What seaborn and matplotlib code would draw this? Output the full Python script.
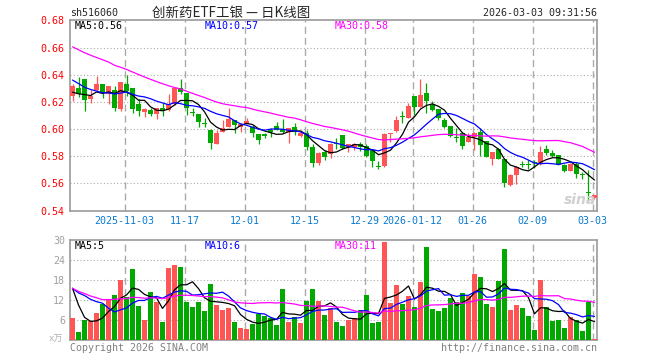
import numpy as np
import pandas as pd
import matplotlib
matplotlib.use('Agg')
import matplotlib.pyplot as plt
import seaborn as sns

# Daily bars for sh516060, 2025-10-21 .. 2026-03-03
opens = [0.6245, 0.6300, 0.6367, 0.6222, 0.6287, 0.6330, 0.6255, 0.6290, 0.6145, 0.6330,
         0.6300, 0.6185, 0.6126, 0.6138, 0.6110, 0.6155, 0.6143, 0.6185, 0.6300, 0.6267,
         0.6123, 0.6110, 0.6045, 0.5990, 0.5894, 0.5982, 0.6019, 0.6069, 0.6019, 0.6039,
         0.6019, 0.5964, 0.5964, 0.5994, 0.6024, 0.5999, 0.5982, 0.6014, 0.5949, 0.5974,
         0.5865, 0.5752, 0.5832, 0.5815, 0.5897, 0.5956, 0.5861, 0.5869, 0.5894, 0.5876,
         0.5844, 0.5727, 0.5727, 0.5966, 0.5986, 0.6093, 0.6080, 0.6242, 0.6160, 0.6262,
         0.6180, 0.6150, 0.6068, 0.6025, 0.5938, 0.5969, 0.5907, 0.5944, 0.5982, 0.5912,
         0.5782, 0.5852, 0.5782, 0.5588, 0.5663, 0.5740, 0.5740, 0.5754, 0.5745, 0.5852,
         0.5822, 0.5807, 0.5733, 0.5695, 0.5745, 0.5670, 0.5537, 0.5490]
highs = [0.6335, 0.6380, 0.6367, 0.6285, 0.6387, 0.6335, 0.6317, 0.6320, 0.6347, 0.6400,
         0.6300, 0.6218, 0.6155, 0.6155, 0.6155, 0.6193, 0.6255, 0.6305, 0.6367, 0.6267,
         0.6155, 0.6110, 0.6085, 0.6000, 0.5994, 0.6069, 0.6156, 0.6069, 0.6044, 0.6081,
         0.6031, 0.5964, 0.5974, 0.6006, 0.6049, 0.6074, 0.6010, 0.6044, 0.5994, 0.5994,
         0.5894, 0.5832, 0.5845, 0.5900, 0.5931, 0.5956, 0.5894, 0.5899, 0.5906, 0.5894,
         0.5844, 0.5762, 0.5968, 0.5970, 0.6093, 0.6135, 0.6193, 0.6242, 0.6367, 0.6342,
         0.6205, 0.6150, 0.6080, 0.6025, 0.6011, 0.5982, 0.5969, 0.5982, 0.6006, 0.5912,
         0.5832, 0.5862, 0.5782, 0.5670, 0.5732, 0.5762, 0.5770, 0.5770, 0.5877, 0.5882,
         0.5845, 0.5812, 0.5745, 0.5752, 0.5757, 0.5683, 0.5696, 0.5515]
lows = [0.6210, 0.6235, 0.6130, 0.6193, 0.6280, 0.6230, 0.6185, 0.6130, 0.6130, 0.6245,
        0.6118, 0.6093, 0.6088, 0.6093, 0.6076, 0.6098, 0.6130, 0.6180, 0.6255, 0.6106,
        0.6093, 0.6018, 0.6015, 0.5857, 0.5887, 0.5982, 0.6014, 0.5969, 0.5982, 0.6035,
        0.5944, 0.5889, 0.5932, 0.5944, 0.5994, 0.5969, 0.5899, 0.5957, 0.5945, 0.5845,
        0.5720, 0.5733, 0.5775, 0.5787, 0.5851, 0.5851, 0.5835, 0.5845, 0.5839, 0.5794,
        0.5719, 0.5707, 0.5724, 0.5906, 0.5981, 0.6043, 0.6080, 0.6105, 0.6160, 0.6118,
        0.6130, 0.6068, 0.6006, 0.5943, 0.5906, 0.5857, 0.5907, 0.5850, 0.5802, 0.5795,
        0.5738, 0.5782, 0.5571, 0.5578, 0.5596, 0.5720, 0.5708, 0.5712, 0.5738, 0.5807,
        0.5795, 0.5733, 0.5688, 0.5695, 0.5638, 0.5633, 0.5472, 0.5488]
closes = [0.6317, 0.6260, 0.6213, 0.6244, 0.6332, 0.6262, 0.6317, 0.6155, 0.6347, 0.6280,
          0.6150, 0.6130, 0.6150, 0.6110, 0.6155, 0.6130, 0.6188, 0.6305, 0.6275, 0.6155,
          0.6118, 0.6050, 0.6038, 0.5895, 0.5974, 0.6010, 0.6074, 0.6031, 0.6039, 0.6056,
          0.5969, 0.5919, 0.5949, 0.5976, 0.5994, 0.5979, 0.6006, 0.5977, 0.5974, 0.5865,
          0.5752, 0.5825, 0.5795, 0.5894, 0.5893, 0.5861, 0.5894, 0.5894, 0.5869, 0.5802,
          0.5769, 0.5724, 0.5961, 0.5968, 0.6068, 0.6090, 0.6168, 0.6160, 0.6250, 0.6205,
          0.6143, 0.6080, 0.6018, 0.5951, 0.5935, 0.5877, 0.5944, 0.5969, 0.5882, 0.5795,
          0.5832, 0.5782, 0.5603, 0.5663, 0.5725, 0.5735, 0.5736, 0.5750, 0.5832, 0.5827,
          0.5802, 0.5733, 0.5695, 0.5745, 0.5670, 0.5665, 0.5533, 0.5515]
# volume in 10k lots
volumes = [6.7, 2.4, 6.0, 5.6, 8.0, 10.9, 12.2, 13.5, 18.0, 12.9,
           21.3, 10.2, 6.0, 14.4, 11.4, 5.4, 21.6, 22.5, 21.9, 11.4,
           9.9, 11.4, 8.7, 16.8, 10.5, 9.0, 9.7, 5.4, 3.6, 3.3,
           4.8, 7.8, 7.2, 6.7, 4.5, 15.3, 5.4, 6.9, 5.1, 11.6,
           15.3, 11.6, 7.5, 9.7, 5.4, 4.2, 6.0, 6.6, 9.0, 13.5,
           5.1, 5.4, 29.4, 11.1, 16.5, 10.8, 13.2, 9.9, 17.4, 27.9,
           9.3, 8.7, 9.6, 12.6, 11.4, 14.1, 13.2, 19.8, 18.9, 10.8,
           10.0, 17.7, 27.3, 9.0, 10.5, 9.6, 7.2, 3.0, 18.1, 9.9,
           5.7, 6.0, 3.6, 7.0, 6.0, 2.7, 11.5, 0.3]

# earlier sessions (off-screen), only used to seed the moving averages
lead_close = [0.690, 0.686, 0.679, 0.684, 0.676, 0.681, 0.688, 0.678, 0.676,
              0.672, 0.668, 0.670, 0.662, 0.666, 0.660, 0.664, 0.668, 0.661, 0.664, 0.660,
              0.652, 0.648, 0.641, 0.645, 0.639,
              0.632, 0.624, 0.628, 0.620]
lead_vol = [30, 25, 28, 24, 28,
            12, 10, 14, 11, 9, 13, 12, 10, 14, 11, 12, 10, 13, 12, 12,
            16, 14, 17, 15, 15.5,
            27.4, 24.5, 11.6, 7.3]

holidays = ['2026-01-01', '2026-01-02', '2026-02-16', '2026-02-17', '2026-02-18',
            '2026-02-19', '2026-02-20', '2026-02-23']
tick_dates = ['2025-11-03', '2025-11-17', '2025-12-01', '2025-12-15', '2025-12-29',
              '2026-01-12', '2026-01-26', '2026-02-09', '2026-03-03']
price_ma_text = ['MA5:0.56', 'MA10:0.57', 'MA30:0.58']
vol_ma_text = ['MA5:5', 'MA10:6', 'MA30:11']

# trading calendar
days = pd.bdate_range('2025-10-21', '2026-03-03')
days = days[~days.isin(pd.to_datetime(holidays))]
day_str = [d.strftime('%Y-%m-%d') for d in days]

df = pd.DataFrame({'idx': np.arange(len(closes)), 'open': opens, 'high': highs,
                   'low': lows, 'close': closes, 'vol': volumes})
n_lead = len(lead_close)
all_close = pd.Series(lead_close + closes)
all_vol = pd.Series(lead_vol + volumes)
for w in (5, 10, 30):
    df[f'ma{w}'] = all_close.rolling(w).mean().iloc[n_lead:].values
    df[f'vma{w}'] = all_vol.rolling(w).mean().iloc[n_lead:].values

up_col = '#ff5555'
dn_col = '#00a800'
ma_cols = ['black', '#0000ff', '#ff00ff']
grid_col = '#aaaaaa'
frame_col = '#9a9a9a'

sns.set_style('white')
plt.rcParams['font.family'] = ['DejaVu Sans Mono', 'Noto Sans CJK SC']
fs = 7.2

W, H = 660, 360
fig = plt.figure(figsize=(6.6, 3.6), dpi=100)
ax = fig.add_axes([70 / W, (H - 210.7) / H, 527 / W, 190.4 / H])
axv = fig.add_axes([70 / W, (H - 340) / H, 527 / W, 100 / H])

colors = [up_col if c >= o else dn_col for o, c in zip(df['open'], df['close'])]
bw = 0.83

# candles
ax.vlines(df['idx'], df['low'], df['high'], colors=colors, lw=0.9, zorder=3)
body_lo = np.minimum(df['open'], df['close'])
body_h = np.maximum(np.abs(df['close'] - df['open']), 0.0006)
ax.bar(df['idx'], body_h, bottom=body_lo, width=bw, color=colors, lw=0, zorder=4)

for w, c in zip((5, 10, 30), ma_cols):
    sns.lineplot(data=df, x='idx', y=f'ma{w}', color=c, lw=0.9, ax=ax, zorder=5)
    sns.lineplot(data=df, x='idx', y=f'vma{w}', color=c, lw=0.9, ax=axv, zorder=5)

# volume bars
axv.bar(df['idx'], df['vol'], width=bw, color=colors, lw=0, zorder=3)

tick_pos = [day_str.index(t) - 0.3 for t in tick_dates]
tick_lab = []
for i, t in enumerate(tick_dates):
    if i == 0 or t[:4] != tick_dates[i - 1][:4]:
        tick_lab.append(t)
    else:
        tick_lab.append(t[5:])

for a in (ax, axv):
    a.set_xlim(-0.42, 87.42)
    for p in tick_pos:
        a.axvline(p, color=grid_col, lw=1.0, ls=(0, (5, 3)), zorder=1)
    for s in a.spines.values():
        s.set_color(frame_col)
        s.set_linewidth(1.2)
    a.set_xlabel('')
    a.set_ylabel('')

yt = np.round(np.arange(0.54, 0.681, 0.02), 2)
ax.set_ylim(0.54, 0.68)
for y in yt[1:-1]:
    ax.axhline(y, color=grid_col, lw=0.8, ls=(0, (1, 2)), zorder=1)
ax.set_yticks(yt)
ax.set_yticklabels([f'{y:.2f}' for y in yt], color='#ff0000', fontsize=fs)
ax.set_xticks(tick_pos)
ax.set_xticklabels(tick_lab, color='#0a7ad0', fontsize=fs)
ax.tick_params(length=0, pad=4)

vt = [6, 12, 18, 24, 30]
axv.set_ylim(0, 30)
for y in vt[:-1]:
    axv.axhline(y, color=grid_col, lw=0.8, ls=(0, (1, 2)), zorder=1)
axv.set_yticks(vt)
axv.set_yticklabels([str(v) for v in vt], color='#a0a0a0', fontsize=fs)
axv.set_xticks([])
axv.tick_params(length=0, pad=3.5)

def ftxt(x, y, s, **kw):
    fig.text(x / W, 1 - y / H, s, va='center', fontsize=kw.pop('fontsize', fs), **kw)

ftxt(70, 13, 'sh516060')
ftxt(231, 13, '创新药ETF工银 — 日K线图', ha='center', fontsize=9.7,
     family=['Noto Sans CJK SC', 'DejaVu Sans'])
ftxt(597, 13, '2026-03-03 09:31:56', ha='right')

for xp, s, c in zip((75, 205, 335), price_ma_text, ma_cols):
    ftxt(xp, 26, s, color=c)
for xp, s, c in zip((75, 205, 335), vol_ma_text, ma_cols):
    ftxt(xp, 246, s, color=c)

ftxt(49, 339, 'x万', color='#b0b0b0', fontsize=6.5)
ftxt(70, 348, 'Copyright 2026 SINA.COM', color='#808080')
ftxt(597, 348, 'http://finance.sina.com.cn', ha='right', color='#808080')
ftxt(580, 200, 'sina', ha='center', color='#cfcfcf', fontsize=10,
     family='DejaVu Sans', fontweight='bold', fontstyle='italic')

fig.savefig('out.png', dpi=100)
